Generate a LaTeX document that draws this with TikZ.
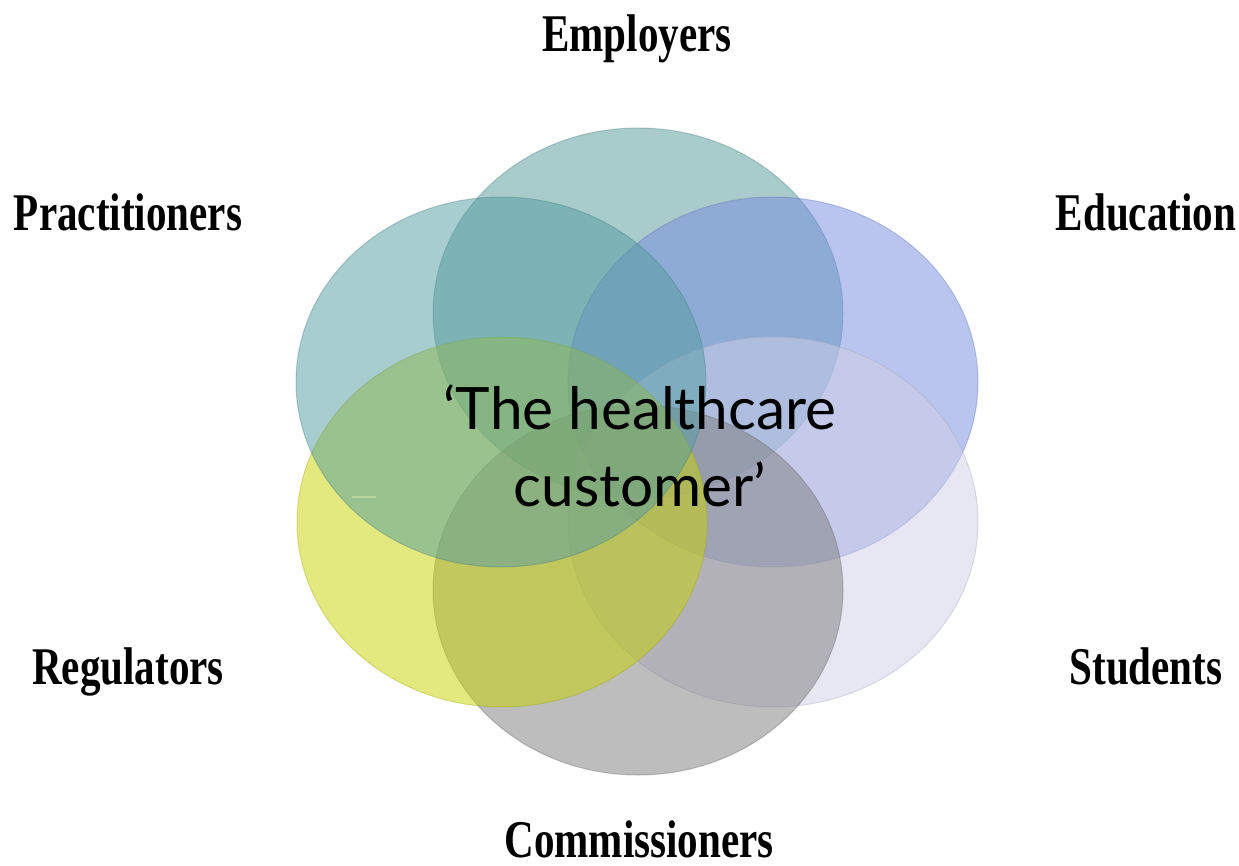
\documentclass[tikz,border=0pt]{standalone}
\usepackage{fontspec}
\usetikzlibrary{shapes.geometric}
\newfontfamily\labelfont{Liberation Serif}
\newfontfamily\centerfont{Lato}
\definecolor{cEmp}{RGB}{83,154,153}
\definecolor{cPra}{RGB}{83,156,160}
\definecolor{cEdu}{RGB}{117,139,225}
\definecolor{cReg}{RGB}{200,212,0}
\definecolor{cStu}{RGB}{209,209,233}
\definecolor{cCom}{RGB}{125,125,125}
\tikzset{
  petal/.style={ellipse, minimum width=410pt, minimum height=370pt, inner sep=0pt,
    fill=#1, draw=#1!80!black, fill opacity=0.5, draw opacity=0.35, line width=1pt},
  lbl/.style={font=\labelfont\bfseries\fontsize{53}{53}\selectfont, anchor=base, inner sep=0pt},
  centretext/.style={font=\centerfont\fontsize{58.5}{77}\selectfont, align=center, text=black}
}
\newcommand{\narrow}[1]{\scalebox{0.775}[1]{#1}}
\begin{document}
\begin{tikzpicture}[x=1pt,y=-1pt]
\useasboundingbox (0,0) rectangle (1239,866);
\fill[white] (0,0) rectangle (1239,866);
\node[petal=cEmp] (emp) at (638,313) {};
\node[petal=cEdu] (edu) at (773,382) {};
\node[petal=cStu] (stu) at (773,522) {};
\node[petal=cCom] (com) at (638,590) {};
\node[petal=cReg] (reg) at (502,522) {};
\node[petal=cPra] (pra) at (501,382) {};
\coordinate (dashA) at (352,497);
\coordinate (dashB) at (376,497);
\draw[line width=2pt, color={rgb,255:red,185;green,215;blue,160}] (dashA) -- (dashB);
\node[centretext] (centre) at (640,446) {‘The healthcare\\customer’};
\node[lbl] (lemp) at (637,52) {\narrow{Employers}};
\node[lbl] (lpra) at (128,231) {\narrow{Practitioners}};
\node[lbl] (ledu) at (1146,231) {\narrow{Education}};
\node[lbl] (lreg) at (128,684) {\narrow{Regulators}};
\node[lbl] (lstu) at (1146,684) {\narrow{Students}};
\node[lbl] (lcom) at (639,857) {\narrow{Commissioners}};
\end{tikzpicture}
\end{document}
